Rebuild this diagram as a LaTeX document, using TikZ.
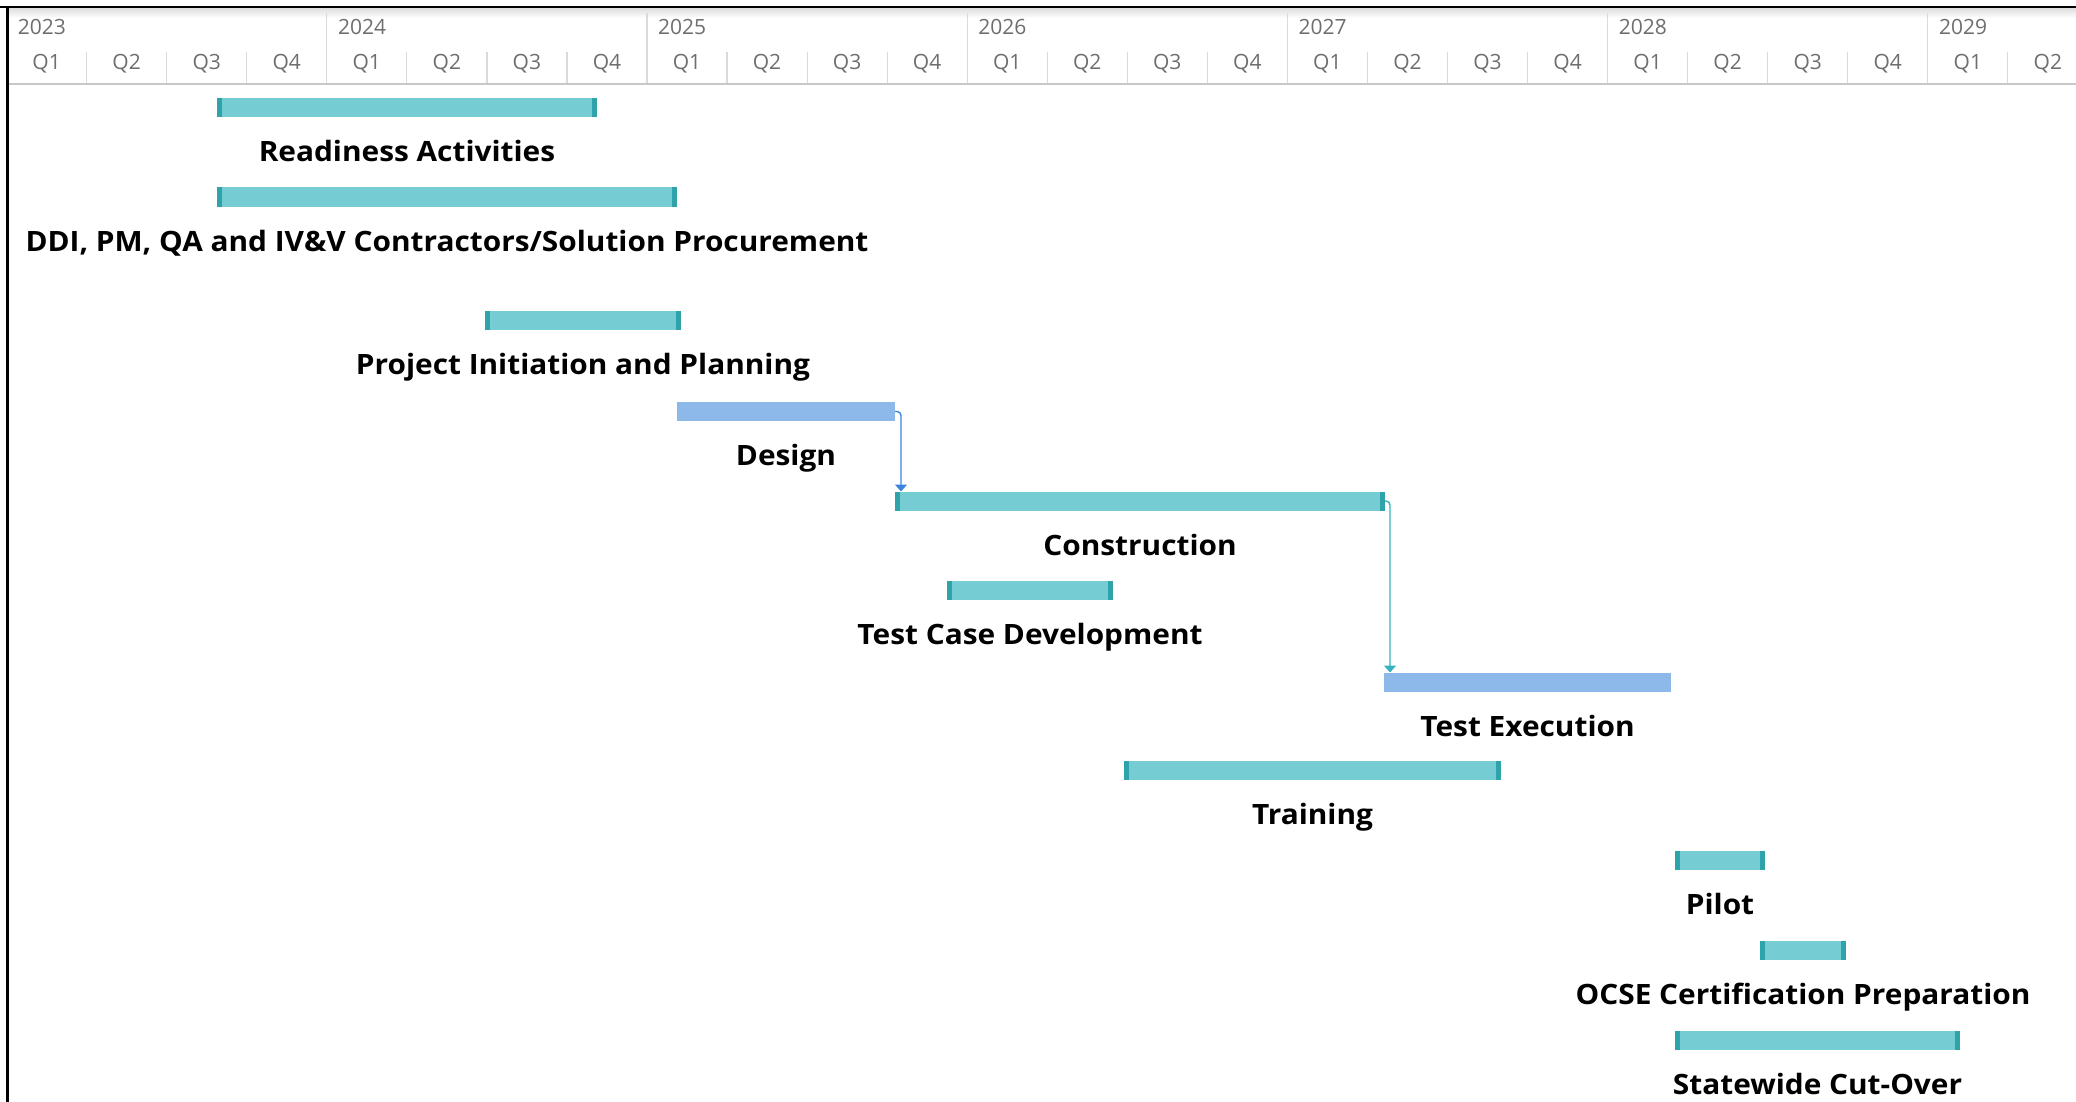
\documentclass[tikz,border=0pt]{standalone}
\usepackage{fontspec}
\setmainfont{Open Sans}
\newfontfamily\lblfont[FakeStretch=1.065]{Open Sans}
\usetikzlibrary{arrows.meta}
\definecolor{barteal}{HTML}{76CCD3}
\definecolor{capteal}{HTML}{2FA3AA}
\definecolor{barblue}{HTML}{8CB8EA}
\definecolor{arrblue}{HTML}{3C85DC}
\definecolor{arrteal}{HTML}{35B3BA}
\definecolor{hdrtext}{HTML}{6E6E6E}
\definecolor{gridgray}{HTML}{DADADA}
\definecolor{hdrline}{HTML}{C8C8C8}
\tikzset{
  tealbar/.style={fill=barteal, draw=none, minimum height=19pt, inner sep=0pt, outer sep=0pt,
    path picture={
      \fill[capteal] (path picture bounding box.south west) rectangle ([xshift=5pt]path picture bounding box.north west);
      \fill[capteal] ([xshift=-5pt]path picture bounding box.south east) rectangle (path picture bounding box.north east);}},
  bluebar/.style={fill=barblue, draw=none, minimum height=19pt, inner sep=0pt, outer sep=0pt},
  lbl/.style={font=\lblfont\fontsize{28}{33}\selectfont\bfseries, text=black, inner sep=0pt, anchor=base},
  hdr/.style={font=\fontsize{21}{25}\selectfont, text=hdrtext, inner sep=0pt, anchor=base},
  link/.style={line width=1.4pt, rounded corners=4pt, -{Triangle[width=12pt,length=7pt]}},
}
\newcommand\gbar[5]{\node[#5, minimum width={#3-#2}, anchor=west] (#1) at (#2,#4) {};}
\begin{document}
\begin{tikzpicture}[x=1pt,y=-1pt]
\useasboundingbox (0,0) rectangle (2076,1102);
\fill[white] (0,0) rectangle (2076,1102);
% header shading
\shade[top color=black!13, bottom color=white] (8,8) rectangle (2076,18);
% dividers
\foreach \t in {1,...,25}{
  \pgfmathsetmacro\xq{6.6+80.05*\t}
  \pgfmathtruncatemacro\md{mod(\t,4)}
  \ifnum\md=0
    \draw[gridgray, line width=1.2pt] (\xq,13) -- (\xq,84);
  \else
    \draw[gridgray, line width=1.2pt] (\xq,52) -- (\xq,84);
  \fi
}
\draw[hdrline, line width=1.6pt] (8,84) -- (2076,84);
% quarter labels
\foreach \t in {0,...,25}{
  \pgfmathsetmacro\xc{6.6+80.05*\t+40}
  \pgfmathtruncatemacro\qn{mod(\t,4)+1}
  \node[hdr] (q\t) at (\xc,69.5) {Q\qn};
}
% year labels
\foreach \k in {0,...,6}{
  \pgfmathsetmacro\xy{6.6+320.2*\k+11}
  \pgfmathtruncatemacro\yr{2023+\k}
  \node[hdr, anchor=base west] (y\k) at (\xy,35) {\yr};
}
% borders
\draw[black, line width=2.2pt] (0,7) -- (2076,7);
\draw[black, line width=2.2pt] (7.5,6) -- (7.5,1102);
% bars
\gbar{b1}{217}{597}{107.5}{tealbar}
\gbar{b2}{217}{677}{197}{tealbar}
\gbar{b3}{485}{681}{320}{tealbar}
\gbar{b4}{677}{895}{411.5}{bluebar}
\gbar{b5}{895}{1385}{501}{tealbar}
\gbar{b6}{947}{1113}{590}{tealbar}
\gbar{b7}{1384}{1671}{682}{bluebar}
\gbar{b8}{1124}{1501}{770}{tealbar}
\gbar{b9}{1675}{1765}{860}{tealbar}
\gbar{b10}{1760}{1846}{950}{tealbar}
\gbar{b11}{1675}{1960}{1040}{tealbar}
% labels
\node[lbl] (l1) at ([yshift=-54pt]b1.center) {Readiness Activities};
\node[lbl] (l2) at ([yshift=-54pt]b2.center) {DDI, PM, QA and IV\&V Contractors/Solution Procurement};
\node[lbl] (l3) at ([yshift=-54pt]b3.center) {Project Initiation and Planning};
\node[lbl] (l4) at ([yshift=-54pt]b4.center) {Design};
\node[lbl] (l5) at ([yshift=-54pt]b5.center) {Construction};
\node[lbl] (l6) at ([yshift=-54pt]b6.center) {Test Case Development};
\node[lbl] (l7) at ([yshift=-54pt]b7.center) {Test Execution};
\node[lbl] (l8) at ([yshift=-54pt]b8.center) {Training};
\node[lbl] (l9) at ([yshift=-54pt]b9.center) {Pilot};
\node[lbl] (l10) at ([yshift=-54pt]b10.center) {OCSE Certification Preparation};
\node[lbl] (l11) at ([yshift=-54pt]b11.center) {Statewide Cut-Over};
% links
\draw[link, arrblue] (b4.east) -| ([xshift=6pt]b5.north west);
\draw[link, arrteal] (b5.east) -| ([xshift=6pt]b7.north west);
\end{tikzpicture}
\end{document}
